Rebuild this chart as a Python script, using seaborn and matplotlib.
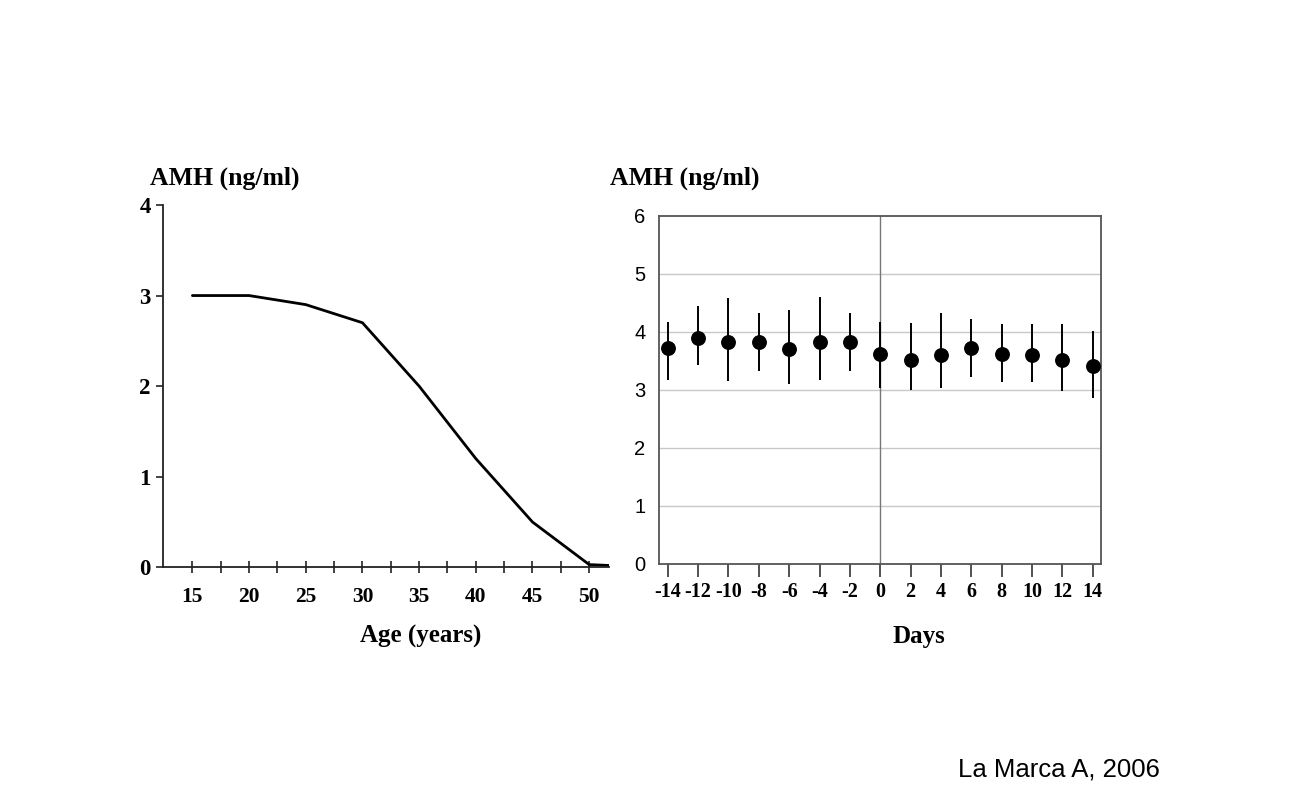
import numpy as np
import pandas as pd
import matplotlib
matplotlib.use("Agg")
import matplotlib.pyplot as plt
import seaborn as sns

# Left panel: AMH vs age
age = [15, 20, 25, 30, 35, 40, 45, 50, 51.8]
amh_age = [3.0, 3.0, 2.9, 2.7, 2.0, 1.2, 0.5, 0.03, 0.02]

# Right panel: AMH across the menstrual cycle
days = [-14, -12, -10, -8, -6, -4, -2, 0, 2, 4, 6, 8, 10, 12, 14]
amh_mean = [3.72, 3.89, 3.82, 3.82, 3.71, 3.82, 3.82, 3.62, 3.52, 3.61, 3.72, 3.62, 3.61, 3.52, 3.41]
amh_hi = [4.18, 4.44, 4.58, 4.32, 4.38, 4.60, 4.32, 4.18, 4.15, 4.32, 4.22, 4.14, 4.14, 4.14, 4.02]
amh_lo = [3.17, 3.43, 3.16, 3.32, 3.10, 3.17, 3.32, 3.03, 3.00, 3.03, 3.22, 3.13, 3.13, 2.98, 2.87]
day_labels = ["-14", "-12", "-10", "-8", "-6", "-4", "-2", "0", "2", "4", "6", "8", "10", "12", "14"]

sns.set_style("white")
plt.rcParams["font.family"] = ["Liberation Serif", "DejaVu Serif"]
plt.rcParams["text.color"] = "black"
plt.rcParams["xtick.color"] = "black"
plt.rcParams["ytick.color"] = "black"
plt.rcParams["axes.labelcolor"] = "black"

fig = plt.figure(figsize=(13.08, 7.92), dpi=100)

# ---- left panel
ax1 = fig.add_axes([0.1249, 0.2837, 0.3408, 0.4575])
df_age = pd.DataFrame({"age": age, "amh": amh_age})
sns.lineplot(data=df_age, x="age", y="amh", ax=ax1, color="black", linewidth=2.0)
ax1.set_xlim(12.44, 51.76)
ax1.set_ylim(0, 4)
ax1.set_xticks([15, 20, 25, 30, 35, 40, 45, 50])
ax1.set_xticks([17.5, 22.5, 27.5, 32.5, 37.5, 42.5, 47.5], minor=True)
ax1.set_yticks([0, 1, 2, 3, 4])
for s in ["top", "right"]:
    ax1.spines[s].set_visible(False)
for s in ["left", "bottom"]:
    ax1.spines[s].set_color("#222222")
    ax1.spines[s].set_linewidth(1.3)
ax1.tick_params(axis="x", which="both", direction="inout", length=9, width=1.2,
                color="#222222", bottom=True, pad=10)
ax1.tick_params(axis="y", direction="out", length=5, width=1.2, color="#222222", left=True, pad=4)
for lab in ax1.get_xticklabels():
    lab.set_fontsize(15.5)
    lab.set_fontweight("bold")
for lab in ax1.get_yticklabels():
    lab.set_fontsize(16.5)
    lab.set_fontweight("bold")
ax1.set_xlabel("")
ax1.set_ylabel("")

# ---- right panel
ax2 = fig.add_axes([0.5041, 0.2879, 0.3377, 0.4394])
ax2.set_xlim(-14.55, 14.55)
ax2.set_ylim(0, 6)
ax2.set_yticks([0, 1, 2, 3, 4, 5, 6])
for yv in [1, 2, 3, 4, 5]:
    ax2.axhline(yv, color="#c8c8c8", linewidth=1.0, zorder=0)
ax2.axvline(0, color="#777777", linewidth=1.0, zorder=1)
yerr = [np.array(amh_mean) - np.array(amh_lo), np.array(amh_hi) - np.array(amh_mean)]
ax2.errorbar(days, amh_mean, yerr=yerr, fmt="none", ecolor="black", elinewidth=1.4, capsize=0, zorder=2)
df_day = pd.DataFrame({"day": days, "amh": amh_mean})
sns.scatterplot(data=df_day, x="day", y="amh", ax=ax2, color="black", s=115,
                edgecolor="black", linewidth=0, zorder=3)
ax2.set_xticks(days)
ax2.set_xticklabels(day_labels, fontsize=14.5, fontweight="bold")
for lab in ax2.get_yticklabels():
    lab.set_fontsize(14.5)
    lab.set_family(["Liberation Sans", "DejaVu Sans"])
for s in ax2.spines.values():
    s.set_color("#555555")
    s.set_linewidth(1.3)
ax2.tick_params(axis="x", direction="out", length=9, width=1.2, color="#333333", bottom=True, pad=4)
ax2.tick_params(axis="y", length=0, pad=10)
ax2.set_xlabel("")
ax2.set_ylabel("")

# ---- texts
fig.text(150 / 1308, 1 - 178 / 792, "AMH (ng/ml)", fontsize=18.5, fontweight="bold", va="center", ha="left")
fig.text(610 / 1308, 1 - 178 / 792, "AMH (ng/ml)", fontsize=18.5, fontweight="bold", va="center", ha="left")
fig.text(421 / 1308, 1 - 636 / 792, "Age (years)", fontsize=18, fontweight="bold", va="center", ha="center")
fig.text(919 / 1308, 1 - 636 / 792, "Days", fontsize=18, fontweight="bold", va="center", ha="center")
fig.text(1059 / 1308, 1 - 770 / 792, "La Marca A, 2006", fontsize=18.5, va="center", ha="center",
         family=["Liberation Sans", "DejaVu Sans"])

fig.savefig("out.png", dpi=100, facecolor="white")
